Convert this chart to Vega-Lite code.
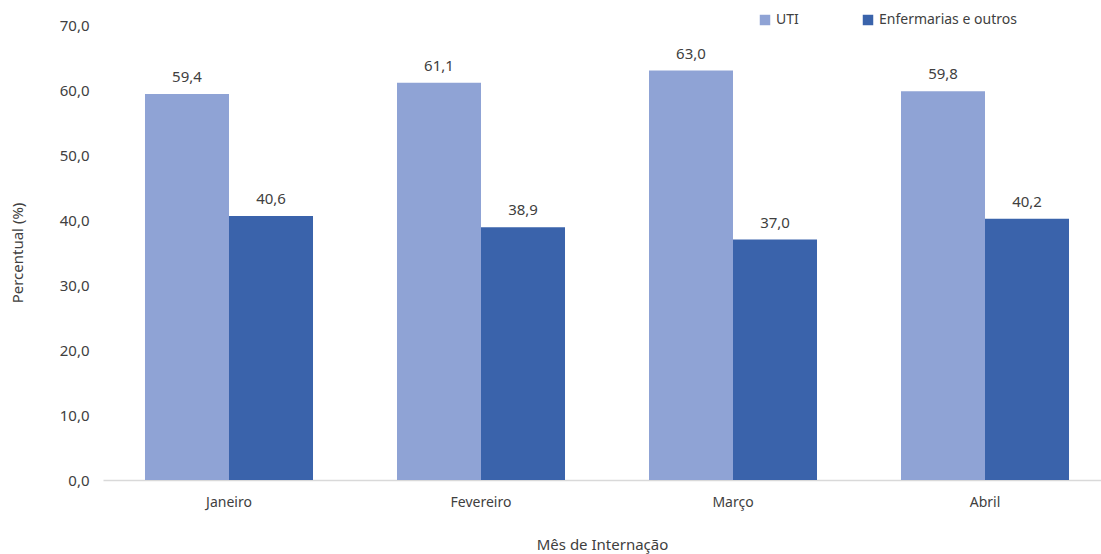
{
  "$schema": "https://vega.github.io/schema/vega-lite/v6.json",
  "width": 998,
  "height": 455,
  "autosize": {"type": "none"},
  "padding": {"left": 103, "top": 25, "right": 0, "bottom": 74},
  "background": "white",
  "config": {
    "view": {"stroke": null},
    "font": "Noto Sans",
    "locale": {"number": {"decimal": ",", "thousands": ".", "grouping": [3], "currency": ["R$", ""]}}
  },
  "data": {
    "values": [
      {"mes": "Janeiro", "tipo": "UTI", "valor": 59.4},
      {"mes": "Janeiro", "tipo": "Enfermarias e outros", "valor": 40.6},
      {"mes": "Fevereiro", "tipo": "UTI", "valor": 61.1},
      {"mes": "Fevereiro", "tipo": "Enfermarias e outros", "valor": 38.9},
      {"mes": "Março", "tipo": "UTI", "valor": 63.0},
      {"mes": "Março", "tipo": "Enfermarias e outros", "valor": 37.0},
      {"mes": "Abril", "tipo": "UTI", "valor": 59.8},
      {"mes": "Abril", "tipo": "Enfermarias e outros", "valor": 40.2}
    ]
  },
  "encoding": {
    "x": {
      "field": "mes", "type": "nominal", "sort": ["Janeiro", "Fevereiro", "Março", "Abril"],
      "scale": {"paddingInner": 0.3333, "paddingOuter": 0.1468, "align": 0.5676},
      "axis": {
        "title": "Mês de Internação", "titleFont": "Noto Sans", "titleFontSize": 15, "titleFontWeight": "normal",
        "titleColor": "#404040", "titlePadding": 28,
        "labelAngle": 0, "labelFontSize": 14, "labelColor": "#404040", "labelPadding": 15,
        "ticks": false, "domainColor": "#D9D9D9", "domainWidth": 1.5
      }
    },
    "xOffset": {"field": "tipo", "type": "nominal", "sort": ["UTI", "Enfermarias e outros"], "scale": {"paddingInner": 0, "paddingOuter": 0}},
    "y": {
      "field": "valor", "type": "quantitative",
      "scale": {"domain": [0, 70], "nice": false},
      "axis": {
        "title": "Percentual (%)", "titleFont": "Noto Sans", "titleFontSize": 15, "titleFontWeight": "normal",
        "titleColor": "#404040", "titlePadding": 34,
        "values": [0, 10, 20, 30, 40, 50, 60, 70], "format": ".1f",
        "labelFontSize": 15, "labelColor": "#404040", "labelPadding": 14,
        "ticks": false, "domain": false, "grid": false
      }
    }
  },
  "layer": [
    {
      "mark": {"type": "bar"},
      "encoding": {
        "color": {
          "field": "tipo", "type": "nominal", "sort": ["UTI", "Enfermarias e outros"],
          "scale": {"domain": ["UTI", "Enfermarias e outros"], "range": ["#8FA3D5", "#3A63AB"]},
          "legend": {
            "title": null, "orient": "none", "direction": "horizontal",
            "legendX": 655, "legendY": -12,
            "symbolType": "square", "symbolSize": 110, "symbolStrokeWidth": 0,
            "labelFontSize": 14, "labelColor": "#404040", "labelOffset": 4,
            "columnPadding": 62
          }
        }
      }
    },
    {
      "mark": {"type": "text", "baseline": "bottom", "dy": -9, "fontSize": 15, "color": "#404040"},
      "encoding": {
        "text": {"field": "valor", "type": "quantitative", "format": ".1f"}
      }
    }
  ]
}
